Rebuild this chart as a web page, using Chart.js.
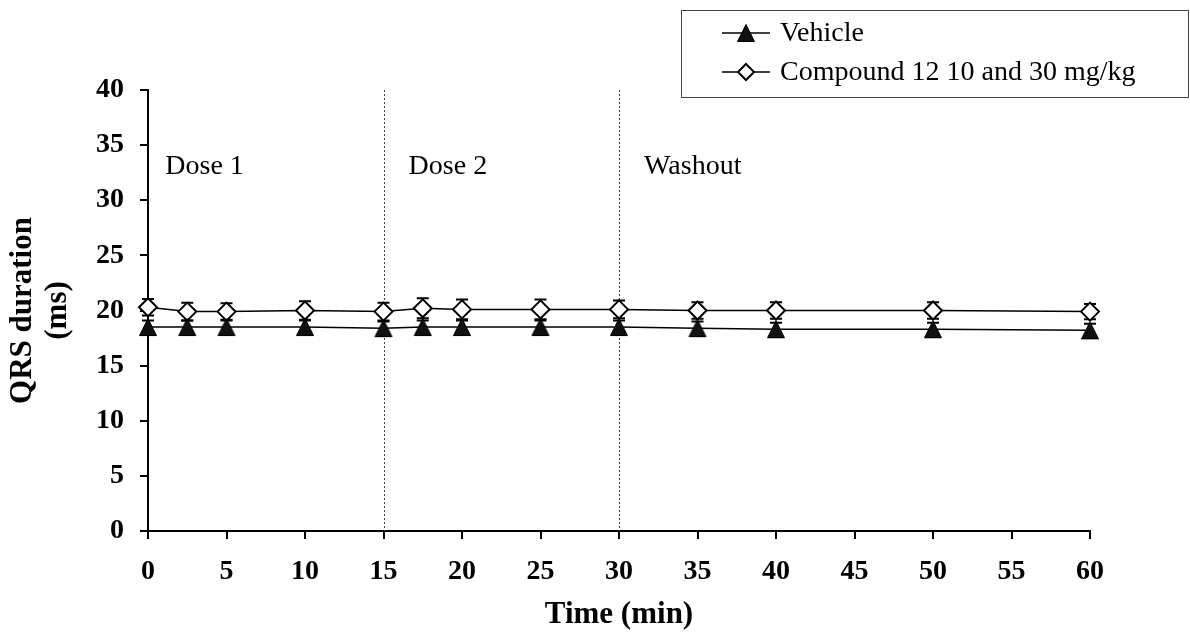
<!DOCTYPE html>
<html>
<head>
<meta charset="utf-8">
<script src="https://cdn.jsdelivr.net/npm/chart.js@4.4.1/dist/chart.umd.min.js"></script>
<style>
  html, body { margin: 0; padding: 0; background: #fff; }
  #wrap { width: 1190px; height: 636px; }
</style>
</head>
<body>
<div id="wrap"><canvas id="qrsChart" width="1190" height="636"></canvas></div>
<script>
const timePoints = [0, 2.5, 5, 10, 15, 17.5, 20, 25, 30, 35, 40, 50, 60];
const vehicleQrs = [18.5, 18.5, 18.5, 18.5, 18.4, 18.5, 18.5, 18.5, 18.5, 18.4, 18.3, 18.3, 18.2];
const vehicleSem = [0.6, 0.6, 0.6, 0.6, 0.6, 0.6, 0.6, 0.6, 0.6, 0.6, 0.6, 0.6, 0.6];
const compoundQrs = [20.3, 19.9, 19.9, 20.0, 19.9, 20.2, 20.1, 20.1, 20.1, 20.0, 20.0, 20.0, 19.9];
const compoundSem = [0.75, 0.8, 0.75, 0.85, 0.8, 0.9, 0.9, 0.9, 0.8, 0.75, 0.75, 0.75, 0.7];
const seriesNames = ["Vehicle", "Compound 12 10 and 30 mg/kg"];

// dosing periods: boundaries and their captions (x, y in axis units)
const phaseBounds = [15, 30];
const phaseNames = ["Dose 1", "Dose 2", "Washout"];
const phaseNameX = [1.1, 16.6, 31.6];
const phaseNameY = 32.4;

const SERIF = '"Liberation Serif", "Times New Roman", serif';

// filled triangle sitting centred in its box
const triangleMarker = (() => {
    const c = document.createElement("canvas");
    c.width = 20;
    c.height = 20;
    const g = c.getContext("2d");
    g.beginPath();
    g.moveTo(10, 1.5);
    g.lineTo(18.5, 18.5);
    g.lineTo(1.5, 18.5);
    g.closePath();
    g.fillStyle = "#111";
    g.fill();
    g.strokeStyle = "#000";
    g.lineWidth = 1;
    g.stroke();
    return c;
})();

const errorBars = {
    id: "errorBars",
    beforeDatasetsDraw(chart) {
        const {ctx, scales: {y}} = chart;
        ctx.save();
        ctx.strokeStyle = "#000";
        chart.data.datasets.forEach((ds, di) => {
            const meta = chart.getDatasetMeta(di);
            meta.data.forEach((pt, i) => {
                const v = ds.data[i].y;
                const e = ds.errors[i];
                const top = y.getPixelForValue(v + e);
                const bot = y.getPixelForValue(v - e);
                ctx.lineWidth = 1.5;
                ctx.beginPath();
                ctx.moveTo(pt.x, top);
                ctx.lineTo(pt.x, bot);
                ctx.stroke();
                ctx.lineWidth = 2;
                ctx.beginPath();
                ctx.moveTo(pt.x - 6, top);
                ctx.lineTo(pt.x + 6, top);
                ctx.moveTo(pt.x - 6, bot);
                ctx.lineTo(pt.x + 6, bot);
                ctx.stroke();
            });
        });
        ctx.restore();
    }
};

const phases = {
    id: "phases",
    beforeDatasetsDraw(chart) {
        const {ctx, chartArea, scales: {x, y}} = chart;
        ctx.save();
        ctx.strokeStyle = "#444";
        ctx.lineWidth = 1;
        ctx.setLineDash([2, 2]);
        phaseBounds.forEach(b => {
            const px = Math.round(x.getPixelForValue(b)) + 0.5;
            ctx.beginPath();
            ctx.moveTo(px, chartArea.top);
            ctx.lineTo(px, chartArea.bottom);
            ctx.stroke();
        });
        ctx.setLineDash([]);
        ctx.fillStyle = "#000";
        ctx.font = "28px " + SERIF;
        ctx.textBaseline = "alphabetic";
        ctx.textAlign = "left";
        phaseNames.forEach((name, i) => {
            ctx.fillText(name, x.getPixelForValue(phaseNameX[i]), y.getPixelForValue(phaseNameY));
        });
        ctx.restore();
    }
};

const boxLegend = {
    id: "boxLegend",
    afterDraw(chart) {
        const {ctx} = chart;
        ctx.save();
        ctx.strokeStyle = "#444";
        ctx.lineWidth = 1;
        ctx.strokeRect(681.5, 10.5, 507, 87);
        const rows = [33, 72];
        chart.data.datasets.forEach((ds, i) => {
            const cy = rows[i];
            ctx.strokeStyle = "#000";
            ctx.lineWidth = 1.5;
            ctx.beginPath();
            ctx.moveTo(722, cy);
            ctx.lineTo(770, cy);
            ctx.stroke();
            if (ds.pointStyle === "rectRot") {
                ctx.beginPath();
                ctx.moveTo(746, cy - 8);
                ctx.lineTo(754, cy);
                ctx.lineTo(746, cy + 8);
                ctx.lineTo(738, cy);
                ctx.closePath();
                ctx.fillStyle = "#fff";
                ctx.fill();
                ctx.lineWidth = 2;
                ctx.stroke();
            } else {
                ctx.drawImage(triangleMarker, 746 - 10, cy - 10);
            }
            ctx.fillStyle = "#000";
            ctx.font = "28px " + SERIF;
            ctx.textBaseline = "middle";
            ctx.fillText(ds.label, 780, cy + 1);
        });
        ctx.restore();
    }
};

new Chart(document.getElementById("qrsChart"), {
    type: "line",
    data: {
        datasets: [
            {
                label: seriesNames[0],
                data: timePoints.map((t, i) => ({x: t, y: vehicleQrs[i]})),
                errors: vehicleSem,
                borderColor: "#000",
                borderWidth: 1.5,
                pointStyle: triangleMarker,
                pointRadius: 10,
                tension: 0,
                clip: false
            },
            {
                label: seriesNames[1],
                data: timePoints.map((t, i) => ({x: t, y: compoundQrs[i]})),
                errors: compoundSem,
                borderColor: "#000",
                borderWidth: 1.5,
                pointStyle: "rectRot",
                pointRadius: 9,
                pointBorderWidth: 2,
                pointBorderColor: "#000",
                pointBackgroundColor: "#fff",
                tension: 0,
                clip: false
            }
        ]
    },
    options: {
        responsive: false,
        animation: false,
        layout: {padding: {top: 90, right: 100, bottom: 0, left: 0}},
        plugins: {
            legend: {display: false},
            tooltip: {enabled: false}
        },
        scales: {
            x: {
                type: "linear",
                min: 0,
                max: 60,
                afterFit: s => { s.height = 105; },
                ticks: {
                    stepSize: 5,
                    padding: 16,
                    color: "#000",
                    font: {family: SERIF, size: 28, weight: "bold"}
                },
                grid: {drawOnChartArea: false, drawTicks: true, tickLength: 8, color: "#000", lineWidth: 2},
                border: {display: true, color: "#000", width: 2},
                title: {
                    display: true,
                    text: "Time (min)",
                    color: "#000",
                    padding: {top: 0, bottom: 2},
                    font: {family: SERIF, size: 31, weight: "bold"}
                }
            },
            y: {
                min: 0,
                max: 40,
                afterFit: s => { s.width = 148; },
                ticks: {
                    stepSize: 5,
                    padding: 16,
                    color: "#000",
                    font: {family: SERIF, size: 28, weight: "bold"}
                },
                grid: {drawOnChartArea: false, drawTicks: true, tickLength: 8, color: "#000", lineWidth: 2},
                border: {display: true, color: "#000", width: 2},
                title: {
                    display: true,
                    text: ["QRS duration", "(ms)"],
                    color: "#000",
                    padding: {top: 5, bottom: 0},
                    font: {family: SERIF, size: 31, weight: "bold", lineHeight: 1.15}
                }
            }
        }
    },
    plugins: [phases, errorBars, boxLegend]
});
</script>
</body>
</html>
